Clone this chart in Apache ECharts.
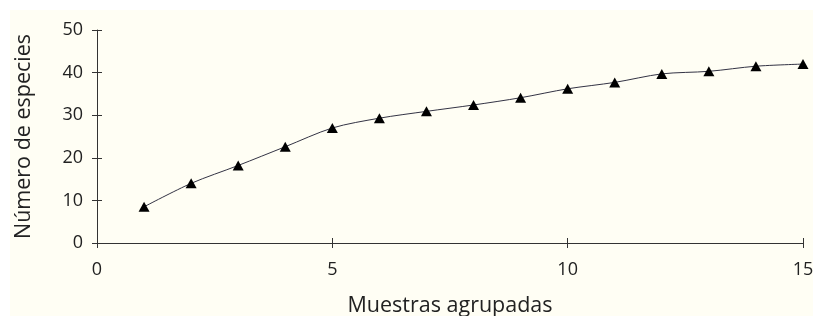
<!DOCTYPE html>
<html><head><meta charset="utf-8">
<script src="https://cdn.jsdelivr.net/npm/echarts@6/dist/echarts.min.js"></script>
<style>html,body{margin:0;padding:0;background:#fff}#c{width:813px;height:316px}</style>
</head><body><div id="c"></div>
<script>
const muestras = [1,2,3,4,5,6,7,8,9,10,11,12,13,14,15];
const especies = [8.5,14.0,18.2,22.6,27.0,29.3,30.9,32.4,34.1,36.2,37.7,39.7,40.3,41.5,42.0];
const xTitle = 'Muestras agrupadas';
const yTitle = 'Número de especies';

const font = '"Open Sans", "Noto Sans", sans-serif';
const chart = echarts.init(document.getElementById('c'), null, {renderer:'canvas'});
const axisCol = '#333';
const grid = {left:97, right:10, top:30, bottom:73, containLabel:false, outerBoundsMode:'none'};
chart.setOption({
  backgroundColor: '#ffffff',
  animation: false,
  graphic: [{type:'rect', z:-10, shape:{x:10,y:10,width:803,height:306}, style:{fill:'#FFFEF4'}}],
  grid: grid,
  xAxis: [{
    type:'value', min:0, max:15, interval:5,
    name: xTitle, nameLocation:'middle', nameGap:52,
    nameTextStyle:{fontFamily:font, fontSize:21.5, color:'#222'},
    axisLine:{show:true, onZero:false, lineStyle:{color:axisCol, width:1}},
    axisTick:{show:true, inside:false, length:5, lineStyle:{color:axisCol}},
    axisLabel:{fontFamily:font, fontSize:18, color:'#222', margin:18},
    splitLine:{show:false}
  },{
    type:'value', min:0, max:15, interval:5, position:'bottom',
    axisLine:{show:false},
    axisTick:{show:true, inside:true, length:5, lineStyle:{color:axisCol}},
    axisLabel:{show:false}, splitLine:{show:false}
  }],
  yAxis: [{
    type:'value', min:0, max:50, interval:10,
    name: yTitle, nameLocation:'middle', nameGap:62,
    nameTextStyle:{fontFamily:font, fontSize:21.5, color:'#222'},
    axisLine:{show:true, onZero:false, lineStyle:{color:axisCol, width:1}},
    axisTick:{show:true, inside:false, length:5, lineStyle:{color:axisCol}},
    axisLabel:{fontFamily:font, fontSize:18, color:'#222', margin:14},
    splitLine:{show:false}
  },{
    type:'value', min:0, max:50, interval:10, position:'left',
    axisLine:{show:false},
    axisTick:{show:true, inside:true, length:5, lineStyle:{color:axisCol}},
    axisLabel:{show:false}, splitLine:{show:false}
  }],
  series: [{
    type:'line', xAxisIndex:0, yAxisIndex:0,
    data: muestras.map((m,i)=>[m, especies[i]]),
    smooth: 0.3,
    symbol:'triangle', symbolSize:[11,10],
    itemStyle:{color:'#000'},
    lineStyle:{color:'#333344', width:1}
  }]
});
</script></body></html>
